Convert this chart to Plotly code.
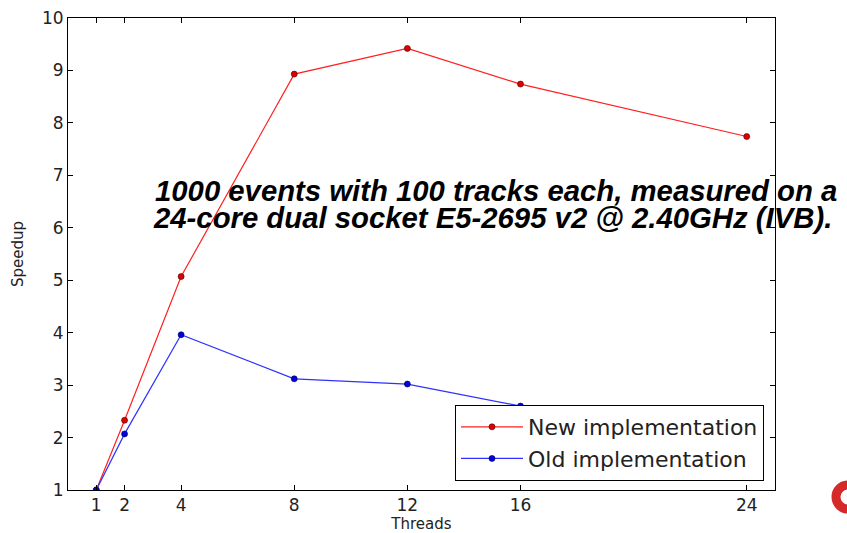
import plotly.graph_objects as go

threads = [1, 2, 4, 8, 12, 16, 24]
new_impl = [1.0, 2.33, 5.07, 8.93, 9.42, 8.74, 7.74]
old_impl = [1.0, 2.07, 3.96, 3.12, 3.02, 2.60, 2.37]
x_ticks = [1, 2, 4, 8, 12, 16, 24]
note_line1 = "1000 events with 100 tracks each, measured on a"
note_line2 = "24-core dual socket E5-2695 v2 @ 2.40GHz (IVB)."

fig = go.Figure()
fig.add_trace(go.Scatter(
    x=threads, y=new_impl, mode="lines+markers", name="New implementation",
    line=dict(color="#ff2020", width=1.2),
    marker=dict(color="#e00000", size=6, line=dict(color="#400000", width=0.6)),
))
fig.add_trace(go.Scatter(
    x=threads, y=old_impl, mode="lines+markers", name="Old implementation",
    line=dict(color="#3030ff", width=1.2),
    marker=dict(color="#0000e0", size=6, line=dict(color="#000040", width=0.6)),
))

axis_common = dict(
    showgrid=False, zeroline=False, showline=True, linecolor="black", linewidth=1,
    mirror="ticks", ticks="inside", ticklen=5, tickcolor="black", tickwidth=1,
    tickfont=dict(family="DejaVu Sans", size=17, color="#222"), automargin=False,
)

fig.update_layout(
    width=847, height=533,
    margin=dict(l=68, r=72, t=18, b=43),
    paper_bgcolor="white", plot_bgcolor="white",
    xaxis=dict(range=[0, 25], tickvals=x_ticks, ticktext=[str(t) for t in x_ticks],
               title=dict(text="Threads", font=dict(family="DejaVu Sans", size=15, color="#222"), standoff=0),
               **axis_common),
    yaxis=dict(range=[1, 10], dtick=1,
               title=dict(text="Speedup", font=dict(family="DejaVu Sans", size=15, color="#222"), standoff=14),
               **axis_common),
    legend=dict(x=(764 - 68) / 707, y=(490 - 481) / 472, xanchor="right", yanchor="bottom",
                bordercolor="black", borderwidth=1, bgcolor="white",
                font=dict(family="DejaVu Sans", size=22, color="#222"),
                tracegroupgap=0, itemwidth=62),
    showlegend=True,
)

fig.add_annotation(xref="paper", yref="paper", x=(153 - 68) / 707, y=(490 - 190) / 472,
                   xanchor="left", yanchor="middle", showarrow=False, text=note_line1,
                   font=dict(family="Liberation Sans", size=29.3, color="black", weight="bold", style="italic"))
fig.add_annotation(xref="paper", yref="paper", x=(151 - 68) / 707, y=(490 - 217) / 472,
                   xanchor="left", yanchor="middle", showarrow=False, text=note_line2,
                   font=dict(family="Liberation Sans", size=29.3, color="black", weight="bold", style="italic"))

# partial logo at bottom right
fig.add_shape(type="circle", xref="paper", yref="paper",
              x0=(836 - 68) / 707, x1=(860 - 68) / 707,
              y0=(490 - 509) / 472, y1=(490 - 485) / 472,
              line=dict(color="#d42a2a", width=9), layer="above")

fig.write_html("out.html", config={"displayModeBar": False},
               post_script="document.body.style.margin='0';document.body.style.overflow='hidden';")
